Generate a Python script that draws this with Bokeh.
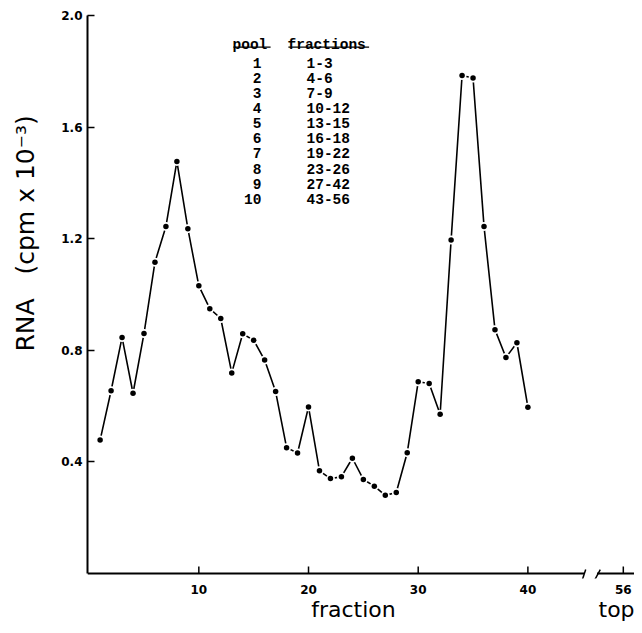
from bokeh.plotting import figure
from bokeh.models import Range1d, FixedTicker, PrintfTickFormatter, ColumnDataSource
from bokeh.embed import file_html
from bokeh.resources import INLINE
from bokeh.core.properties import value

# ---------------- data ----------------
fraction = list(range(1, 41))
rna = [0.478, 0.655, 0.846, 0.646, 0.860, 1.116, 1.244, 1.477, 1.236, 1.031,
       0.949, 0.914, 0.719, 0.859, 0.836, 0.765, 0.652, 0.451, 0.432, 0.597,
       0.368, 0.340, 0.347, 0.413, 0.337, 0.313, 0.280, 0.290, 0.433, 0.687,
       0.681, 0.571, 1.195, 1.785, 1.776, 1.244, 0.874, 0.774, 0.827, 0.596]

x_ticks = [10, 20, 30, 40]
last_fraction_label = "56"          # shown after the axis break
y_ticks = [0.4, 0.8, 1.2, 1.6, 2.0]

pools = ["1", "2", "3", "4", "5", "6", "7", "8", "9", "10"]
pool_fractions = ["1-3", "4-6", "7-9", "10-12", "13-15", "16-18",
                  "19-22", "23-26", "27-42", "43-56"]

# ---------------- layout constants ----------------
X_START, X_END = -0.15, 49.72
Y_START, Y_END = -0.018, 2.0
BREAK_L, BREAK_R = 45.12, 46.30
POS_56 = 48.7
TICK_LEN = 0.025
NB = "\u00a0"

p = figure(width=634, height=625, output_backend="svg", toolbar_location=None,
           x_range=Range1d(X_START, X_END), y_range=Range1d(Y_START, Y_END),
           min_border_left=87, min_border_right=0, min_border_top=15,
           min_border_bottom=47)
p.outline_line_color = None
p.xgrid.visible = False
p.ygrid.visible = False
p.background_fill_color = "white"

# y axis
ya = p.yaxis[0]
ya.ticker = FixedTicker(ticks=y_ticks)
ya.formatter = PrintfTickFormatter(format="%.1f")
ya.bounds = (0, 2.0)
ya.axis_line_width = 2
ya.axis_line_color = "black"
ya.major_tick_in = 7
ya.major_tick_out = 0
ya.major_tick_line_width = 1.5
ya.minor_tick_line_color = None
ya.major_label_standoff = 5
ya.major_label_text_font = "DejaVu Sans"
ya.major_label_text_font_style = "bold"
ya.major_label_text_font_size = "12px"
ya.major_label_text_color = "black"
ya.axis_label = NB * 16 + "RNA" + NB * 3 + "(cpm x 10\u207b\u00b3)"
ya.axis_label_text_font = "DejaVu Sans"
ya.axis_label_text_font_style = "normal"
ya.axis_label_text_font_size = "25px"
ya.axis_label_text_color = "black"
ya.axis_label_standoff = 18

# x axis (line and ticks drawn below with the break)
xa = p.xaxis[0]
xa.ticker = FixedTicker(ticks=x_ticks + [POS_56])
xa.major_label_overrides = {POS_56: last_fraction_label}
xa.axis_line_color = None
xa.major_tick_line_color = None
xa.minor_tick_line_color = None
xa.major_label_standoff = 0
xa.major_label_text_font = "DejaVu Sans"
xa.major_label_text_font_style = "bold"
xa.major_label_text_font_size = "12px"
xa.major_label_text_color = "black"
# axis title "fraction", with "top" under the fraction-56 tick
xa.axis_label = NB * 32 + "fraction" + NB * 29 + "top"
xa.axis_label_text_font = "DejaVu Sans"
xa.axis_label_text_font_style = "normal"
xa.axis_label_text_font_size = "22px"
xa.axis_label_text_color = "black"
xa.axis_label_standoff = 0

# broken x axis line
p.segment(x0=[X_START, BREAK_R], y0=[0, 0], x1=[BREAK_L, X_END], y1=[0, 0],
          line_color="black", line_width=2)
# break marks
p.segment(x0=[BREAK_L - 0.15, BREAK_R - 0.3], y0=[-0.022, -0.03],
          x1=[BREAK_L + 0.15, BREAK_R + 0.3], y1=[0.014, 0.014],
          line_color="black", line_width=1.5)
# inward ticks
tick_pos = x_ticks + [POS_56]
p.segment(x0=tick_pos, y0=[0] * len(tick_pos), x1=tick_pos,
          y1=[TICK_LEN] * len(tick_pos), line_color="black", line_width=1.5)

# data
src = ColumnDataSource(dict(x=fraction, y=rna))
p.line("x", "y", source=src, line_color="black", line_width=1.6)
p.scatter("x", "y", source=src, size=9, fill_color="white", line_color=None)
p.scatter("x", "y", source=src, size=5.5, fill_color="black", line_color=None)

# pool table
ROW0, ROW_STEP = 1.8314, 0.0543
row_y = [ROW0 - i * ROW_STEP for i in range(len(pools))]
p.text(x=[15.714] * len(pools), y=row_y, text=pools,
       text_font=value("Liberation Mono"), text_font_style="bold",
       text_font_size="14.5px", text_align="right", text_baseline="middle",
       text_color="black")
p.text(x=[19.817] * len(pool_fractions), y=row_y, text=pool_fractions,
       text_font=value("Liberation Mono"), text_font_style="bold",
       text_font_size="14.5px", text_align="left", text_baseline="middle",
       text_color="black")
HEAD_Y = 1.896
head_x = [13.07, 18.085]
head_txt = ["pool", "fractions"]
p.text(x=head_x, y=[HEAD_Y, HEAD_Y], text=head_txt,
       text_font=value("Liberation Mono"), text_font_style="bold",
       text_font_size="14.5px", text_align="left", text_baseline="alphabetic",
       text_color="black")
CW = 8.7 / 10.968
p.segment(x0=[hx + 0.08 for hx in head_x], y0=[1.887, 1.887],
          x1=[hx + len(t) * CW + 0.3 for hx, t in zip(head_x, head_txt)],
          y1=[1.887, 1.887], line_color="black", line_width=1.3)

open("out.html", "w").write(file_html(p, INLINE))
